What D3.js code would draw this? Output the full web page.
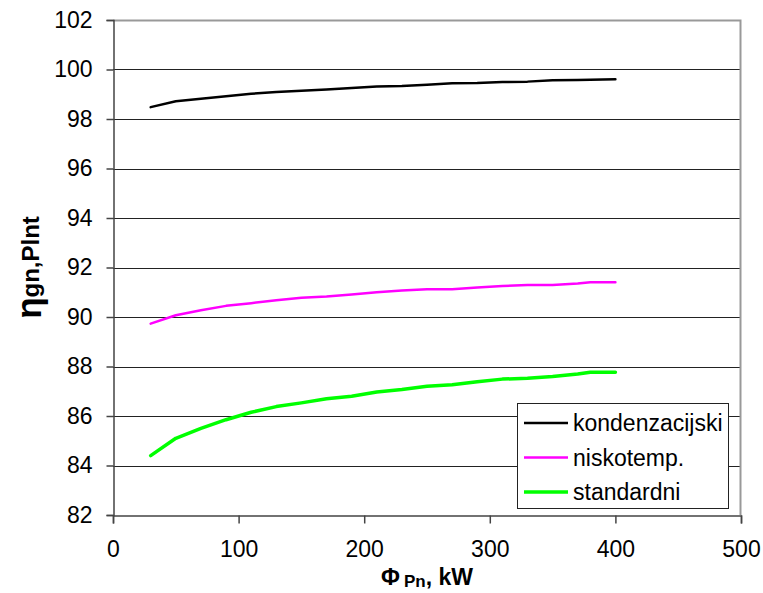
<!DOCTYPE html>
<html>
<head>
<meta charset="utf-8">
<script src="https://cdn.jsdelivr.net/npm/d3@7"></script>
<style>
  body { margin: 0; background: #fff; }
  text { font-family: "Liberation Sans", Arial, sans-serif; fill: #000; }
</style>
</head>
<body>
<div id="chart"></div>
<script>
var width = 763, height = 593;
var margin = {top: 20, right: 22, bottom: 78, left: 113};

// data
var power = [30, 50, 70, 90, 110, 130, 150, 170, 190, 210, 230, 250, 270, 290, 310, 330, 350, 370, 380, 400];
var kondenzacijski = [98.48, 98.72, 98.82, 98.92, 99.02, 99.09, 99.14, 99.19, 99.25, 99.31, 99.33, 99.38, 99.44, 99.45, 99.49, 99.51, 99.57, 99.58, 99.59, 99.61];
var niskotemp = [89.73, 90.07, 90.27, 90.45, 90.56, 90.68, 90.78, 90.83, 90.91, 91.0, 91.07, 91.12, 91.12, 91.19, 91.25, 91.29, 91.29, 91.35, 91.4, 91.4];
var standardni = [84.4, 85.1, 85.5, 85.85, 86.15, 86.38, 86.53, 86.7, 86.8, 86.97, 87.07, 87.2, 87.26, 87.38, 87.49, 87.53, 87.6, 87.7, 87.77, 87.77];
var seriesNames = ["kondenzacijski", "niskotemp.", "standardni"];
var seriesColors = ["#000000", "#ff00ff", "#00ff00"];
var seriesWidths = [2.5, 2.5, 3.5];
var xTicks = [0, 100, 200, 300, 400, 500];
var yTicks = [82, 84, 86, 88, 90, 92, 94, 96, 98, 100, 102];

var series = [kondenzacijski, niskotemp, standardni].map(function(vals, i) {
  return {
    name: seriesNames[i],
    color: seriesColors[i],
    width: seriesWidths[i],
    values: vals.map(function(v, j) { return {x: power[j], y: v}; })
  };
});

var svg = d3.select("#chart").append("svg")
  .attr("width", width)
  .attr("height", height);

var x = d3.scaleLinear()
  .domain([0, 500])
  .range([margin.left, width - margin.right]);

var y = d3.scaleLinear()
  .domain([82, 102])
  .range([height - margin.bottom, margin.top]);

// gridlines
svg.append("g")
  .selectAll("line")
  .data(yTicks.slice(1, -1))
  .enter().append("line")
    .attr("x1", x(0))
    .attr("x2", x(500))
    .attr("y1", function(d) { return Math.round(y(d)) + 0.5; })
    .attr("y2", function(d) { return Math.round(y(d)) + 0.5; })
    .attr("stroke", "#222")
    .attr("stroke-width", 1);

// plot frame (top/right grey)
svg.append("path")
  .attr("d", "M" + x(0) + "," + (Math.round(y(102)) + 0.5) + "H" + (x(500) - 0.5) + "V" + y(82))
  .attr("fill", "none")
  .attr("stroke", "#999")
  .attr("stroke-width", 2);

// axes
var yAxis = svg.append("g")
  .attr("transform", "translate(" + (x(0) + 0.5) + ",0)")
  .call(d3.axisLeft(y).tickValues(yTicks).tickSize(7).tickPadding(14));

var xAxis = svg.append("g")
  .attr("transform", "translate(0," + (Math.round(y(82)) + 0.5) + ")")
  .call(d3.axisBottom(x).tickValues(xTicks).tickSize(8).tickPadding(17));

[yAxis, xAxis].forEach(function(ax) {
  ax.select(".domain").attr("stroke", "#444").attr("stroke-width", 1.5);
  ax.selectAll(".tick line").attr("stroke", "#444").attr("stroke-width", 1.5);
  ax.selectAll(".tick text")
    .style("font-family", "'Liberation Sans', Arial, sans-serif")
    .style("font-size", "23px")
    .attr("fill", "#000");
});

// lines
var line = d3.line()
  .x(function(d) { return x(d.x); })
  .y(function(d) { return y(d.y); });

svg.selectAll(".series")
  .data(series)
  .enter().append("path")
    .attr("class", "series")
    .attr("d", function(d) { return line(d.values); })
    .attr("fill", "none")
    .attr("stroke", function(d) { return d.color; })
    .attr("stroke-width", function(d) { return d.width; })
    .attr("stroke-linejoin", "round")
    .attr("stroke-linecap", "round");

// legend
var legend = svg.append("g")
  .attr("transform", "translate(517,403)");

legend.append("rect")
  .attr("x", 0.5)
  .attr("y", 0.5)
  .attr("width", 211)
  .attr("height", 105)
  .attr("fill", "#fff")
  .attr("stroke", "#222")
  .attr("stroke-width", 1);

var item = legend.selectAll(".item")
  .data(series)
  .enter().append("g")
    .attr("class", "item")
    .attr("transform", function(d, i) { return "translate(0," + (20 + i * 34.5) + ")"; });

item.append("line")
  .attr("x1", 7)
  .attr("x2", 51)
  .attr("stroke", function(d) { return d.color; })
  .attr("stroke-width", function(d) { return d.width; });

item.append("text")
  .attr("x", 56)
  .attr("dy", "0.35em")
  .style("font-size", "23px")
  .text(function(d) { return d.name; });

// axis titles
svg.append("text")
  .attr("transform", "translate(41," + ((margin.top + height - margin.bottom) / 2) + ") rotate(-90)")
  .attr("text-anchor", "middle")
  .style("font-weight", "bold")
  .call(function(t) {
    t.append("tspan").style("font-size", "35px").text("η");
    t.append("tspan").style("font-size", "24px").attr("dy", "-2").text("gn,Plnt");
  });

svg.append("text")
  .attr("x", (x(0) + x(500)) / 2)
  .attr("y", 585)
  .attr("text-anchor", "middle")
  .style("font-weight", "bold")
  .call(function(t) {
    t.append("tspan").style("font-size", "23px").text("Φ");
    t.append("tspan").style("font-size", "17px").attr("dx", "4").attr("dy", "2").text("Pn");
    t.append("tspan").style("font-size", "23px").attr("dy", "-2").text(", kW");
  });
</script>
</body>
</html>
